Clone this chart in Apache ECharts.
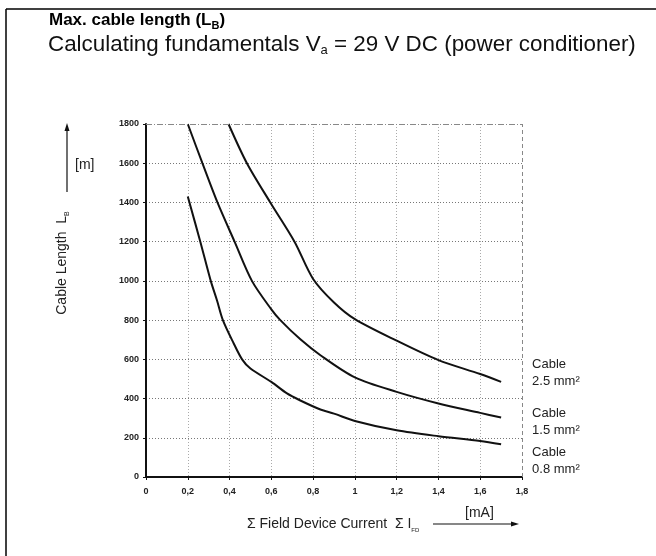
<!DOCTYPE html>
<html><head><meta charset="utf-8">
<script src="https://cdn.jsdelivr.net/npm/echarts@6/dist/echarts.min.js"></script>
<style>html,body{margin:0;padding:0;background:#fff}#c{width:656px;height:556px}</style>
</head><body><div id="c"></div>
<script>
// ---- data ----
const xTicks = { min: 0, max: 1.8, interval: 0.2 };
const yTicks = { min: 0, max: 1800, interval: 200 };
const cable08 = [[0.2,1430],[0.26,1200],[0.31,1000],[0.34,900],[0.368,800],[0.42,681],[0.46,600],[0.5,553],[0.6,485],[0.675,426],[0.739,390],[0.835,344],[0.9,323],[1.0,286],[1.2,238],[1.4,208],[1.6,184],[1.7,167]];
const cable15 = [[0.2,1800],[0.27,1600],[0.342,1400],[0.424,1200],[0.507,1000],[0.6,855],[0.643,800],[0.739,702],[0.835,621],[1.0,508],[1.2,434],[1.4,375],[1.6,327],[1.7,303]];
const cable25 = [[0.395,1800],[0.483,1600],[0.595,1400],[0.711,1200],[0.8,1010],[0.9,890],[1.0,805],[1.2,695],[1.4,596],[1.6,525],[1.7,485]];
const seriesNames = ['Cable 0.8 mm²','Cable 1.5 mm²','Cable 2.5 mm²'];
const endLabels = ['Cable\n0.8 mm²','Cable\n1.5 mm²','Cable\n2.5 mm²'];

const FONT = 'Liberation Sans, Arial, sans-serif';
const chart = echarts.init(document.getElementById('c'), null, {renderer:'canvas'});
const fmtX = v => (Math.round(v*10)/10).toString().replace('.', ',');
const fmtY = v => String(Math.round(v));
const labelOffsets = [[31,17],[31,4],[31,-9]];

function mkSeries(i, data){
  return {
    name: seriesNames[i], type:'line', data: data,
    smooth: 0.3, showSymbol:false, symbol:'none',
    lineStyle:{color:'#111', width:2}, itemStyle:{color:'#111'},
    endLabel:{show:true, formatter: endLabels[i], distance:0, offset: labelOffsets[i],
      fontFamily: FONT, fontSize:13, lineHeight:17, color:'#222', align:'left'},
    emphasis:{disabled:true}, silent:true
  };
}

const series = [mkSeries(0,cable08), mkSeries(1,cable15), mkSeries(2,cable25)];
series[0].markLine = {
  silent:true, symbol:'none', animation:false, label:{show:false},
  data:[
    {yAxis: yTicks.max, lineStyle:{type:[6,2,1,2], color:'#888', width:1}},
    {xAxis: xTicks.max, lineStyle:{type:[4,3], color:'#888', width:1}}
  ]
};

chart.setOption({
  animation:false,
  backgroundColor:'#fff',
  grid:{left:146, right:134, top:124, bottom:79, containLabel:false},
  xAxis:{type:'value', min:xTicks.min, max:xTicks.max, interval:xTicks.interval,
    axisLine:{show:true, lineStyle:{color:'#111', width:2}},
    axisTick:{show:true, length:3, lineStyle:{color:'#111', width:1}},
    axisLabel:{formatter: fmtX, fontFamily:FONT, fontSize:9, fontWeight:'bold', color:'#222', margin:10},
    splitLine:{show:true, showMaxLine:false, lineStyle:{type:[1,2], color:'#aaa', width:1}}
  },
  yAxis:{type:'value', min:yTicks.min, max:yTicks.max, interval:yTicks.interval,
    axisLine:{show:true, lineStyle:{color:'#111', width:2}},
    axisTick:{show:true, length:3, lineStyle:{color:'#111', width:1}},
    axisLabel:{formatter: fmtY, fontFamily:FONT, fontSize:9, fontWeight:'bold', color:'#222', margin:7},
    splitLine:{show:true, showMaxLine:false, lineStyle:{type:[1,2], color:'#777', width:1}}
  },
  series: series,
  graphic:[
    {type:'line', shape:{x1:6,y1:9,x2:656,y2:9}, style:{stroke:'#000', lineWidth:1.5}, silent:true},
    {type:'line', shape:{x1:6,y1:9,x2:6,y2:556}, style:{stroke:'#000', lineWidth:1.5}, silent:true},
    {type:'text', x:49, y:31, silent:true, style:{
      text:'{a|Max. cable length (L}{s|B}{a|)}', verticalAlign:'bottom',
      rich:{a:{fontFamily:FONT, fontSize:17, fontWeight:'bold', fill:'#000', lineHeight:19, verticalAlign:'top'},
            s:{fontFamily:FONT, fontSize:11, fontWeight:'bold', fill:'#000', lineHeight:11, verticalAlign:'bottom', padding:[6,0,0,0]}}}},
    {type:'text', x:48, y:57, silent:true, style:{
      text:'{a|Calculating fundamentals V}{s|a}{a| = 29 V DC (power conditioner)}', verticalAlign:'bottom',
      rich:{a:{fontFamily:FONT, fontSize:22.4, fill:'#111', lineHeight:23, verticalAlign:'top'},
            s:{fontFamily:FONT, fontSize:13, fill:'#111', lineHeight:13, verticalAlign:'bottom', padding:[7,0,0,0]}}}},
    {type:'text', x:63, y:263, rotation:Math.PI/2, silent:true, style:{
      text:'{a|Cable Length  L}{s|B}', align:'center', verticalAlign:'middle',
      rich:{a:{fontFamily:FONT, fontSize:14, fill:'#222', lineHeight:16, verticalAlign:'top'},
            s:{fontFamily:FONT, fontSize:7, fill:'#222', lineHeight:7, verticalAlign:'bottom', padding:[5,0,0,0]}}}},
    {type:'line', shape:{x1:67,y1:192,x2:67,y2:129}, style:{stroke:'#111', lineWidth:1.2}, silent:true},
    {type:'polygon', shape:{points:[[64.5,131],[69.5,131],[67,123]]}, style:{fill:'#111'}, silent:true},
    {type:'text', x:75, y:165, silent:true, style:{text:'[m]', fontFamily:FONT, fontSize:14, fill:'#222', verticalAlign:'middle'}},
    {type:'text', x:247, y:525, silent:true, style:{
      text:'{a|Σ Field Device Current  Σ I}{s|FD}', verticalAlign:'middle',
      rich:{a:{fontFamily:FONT, fontSize:14, fill:'#222', lineHeight:16, verticalAlign:'top'},
            s:{fontFamily:FONT, fontSize:6, fill:'#222', lineHeight:6, verticalAlign:'bottom', padding:[5,0,0,0]}}}},
    {type:'line', shape:{x1:433,y1:524,x2:512,y2:524}, style:{stroke:'#111', lineWidth:1.2}, silent:true},
    {type:'polygon', shape:{points:[[511,521.5],[511,526.5],[519,524]]}, style:{fill:'#111'}, silent:true},
    {type:'text', x:465, y:513, silent:true, style:{text:'[mA]', fontFamily:FONT, fontSize:14, fill:'#222', verticalAlign:'middle'}}
  ]
});
</script></body></html>
